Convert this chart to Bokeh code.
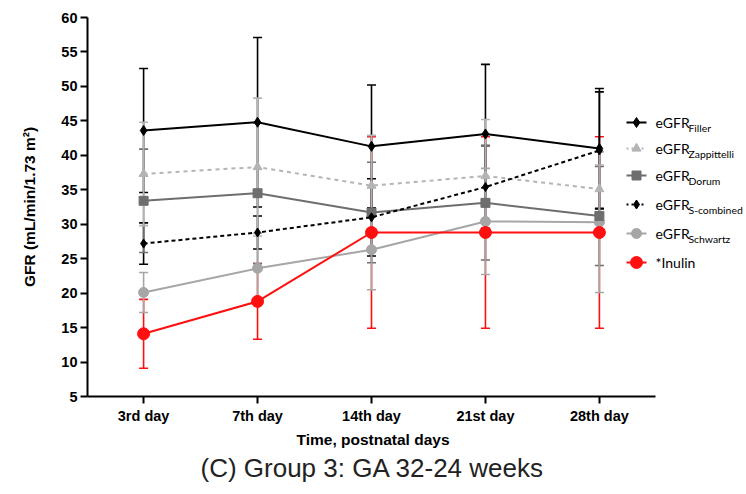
from bokeh.plotting import figure
from bokeh.models import Range1d, Whisker, ColumnDataSource, Label, FixedTicker, TeeHead, Title
from bokeh.embed import file_html
from bokeh.resources import INLINE

# ---------------- data ----------------
days = ["3rd day", "7th day", "14th day", "21st day", "28th day"]
filler = [43.6, 44.8, 41.3, 43.1, 41.0]
filler_sd = [9.0, 12.3, 8.9, 10.1, 8.7]
zappittelli = [37.3, 38.3, 35.6, 37.0, 35.1]
zappittelli_sd = [7.5, 10.0, 7.3, 8.2, 3.5]
dorum = [33.4, 34.5, 31.7, 33.1, 31.2]
dorum_sd = [7.5, 10.2, 7.3, 8.3, 7.2]
scombined = [27.2, 28.8, 31.0, 35.4, 40.7]
scombined_sd = [3.0, 2.4, 5.6, 6.0, 8.5]
schwartz = [20.1, 23.6, 26.3, 30.4, 30.3]
schwartz_sd = [2.9, 5.1, 5.8, 7.7, 10.2]
inulin = [14.1, 18.8, 28.8, 28.8, 28.8]
inulin_sd = [5.0, 5.5, 13.9, 13.9, 13.9]

y_ticks = [5, 10, 15, 20, 25, 30, 35, 40, 45, 50, 55, 60]

xs = list(range(len(days)))

# ---------------- figure ----------------
W, H = 746, 494
FL, FT, FB = 87, 17, 396          # frame left / top / bottom (px)
AX_RIGHT = 655                    # end of the drawn x axis (px)
PX_PER_X = (AX_RIGHT - FL) / 4.9846
X0 = -0.4923
X_END = X0 + (W - FL) / PX_PER_X
X_AXIS_END = X0 + (AX_RIGHT - FL) / PX_PER_X

p = figure(width=W, height=H, x_range=Range1d(X0, X_END), y_range=Range1d(5, 60),
           output_backend="svg", toolbar_location=None,
           min_border_left=FL, min_border_right=0, min_border_top=FT,
           min_border_bottom=H - FB)
p.outline_line_color = None
p.xgrid.grid_line_color = None
p.ygrid.grid_line_color = None
p.background_fill_color = "white"

AX_FONT = "Liberation Sans"
for ax in (p.xaxis[0], p.yaxis[0]):
    ax.axis_line_width = 2
    ax.major_tick_line_width = 2
    ax.major_tick_in = 0
    ax.major_tick_out = 7
    ax.minor_tick_line_color = None
    ax.major_label_text_font = AX_FONT
    ax.major_label_text_font_style = "bold"
    ax.major_label_text_font_size = "14.5px"
    ax.major_label_text_color = "black"
    ax.axis_label_text_font = AX_FONT
    ax.axis_label_text_font_style = "bold"
    ax.axis_label_text_font_size = "15.5px"
    ax.axis_label_text_color = "black"

p.xaxis.ticker = FixedTicker(ticks=xs)
p.xaxis.major_label_overrides = {i: d for i, d in enumerate(days)}
p.xaxis.bounds = (X0, X_AXIS_END)
p.xaxis.major_label_standoff = 4
p.yaxis.ticker = FixedTicker(ticks=y_ticks)
p.yaxis.axis_label = "GFR (mL/min/1.73 m\u00b2)"
p.yaxis.major_label_standoff = 3
p.yaxis.axis_label_standoff = 20

series = [
    # name, sub, values, sd, color, dash, marker, size
    ("Inulin", None, inulin, inulin_sd, "#ff1010", "solid", "circle", 12),
    ("Filler", "Filler", filler, filler_sd, "#000000", "solid", "diamond", 10),
    ("S", "S-combined", scombined, scombined_sd, "#000000", "4 3", "diamond", 9),
    ("Dorum", "Dorum", dorum, dorum_sd, "#6e6e6e", "solid", "square", 9),
    ("Zapp", "Zappittelli", zappittelli, zappittelli_sd, "#b4b4b4", "4 4", "triangle", 9),
    ("Schwartz", "Schwartz", schwartz, schwartz_sd, "#a6a6a6", "solid", "circle", 10),
]

# error bars (under everything)
for name, sub, vals, sd, color, dash, marker, size in series:
    src = ColumnDataSource(dict(x=xs, upper=[v + s for v, s in zip(vals, sd)],
                                lower=[v - s for v, s in zip(vals, sd)]))
    w = Whisker(base="x", upper="upper", lower="lower", source=src,
                line_color=color, line_width=1.6, level="underlay",
                upper_head=TeeHead(size=9, line_color=color, line_width=1.6),
                lower_head=TeeHead(size=9, line_color=color, line_width=1.6))
    p.add_layout(w)

# lines + markers (red drawn last)
draw_order = [series[5], series[4], series[3], series[2], series[1], series[0]]
for name, sub, vals, sd, color, dash, marker, size in draw_order:
    p.line(xs, vals, line_color=color, line_width=2, line_dash=dash)
    p.scatter(xs, vals, marker=marker, size=size, fill_color=color, line_color=color)

# ---------------- legend (built by hand for subscripts) ----------------
def X(px):  # pixel -> data x
    return X0 + (px - FL) / PX_PER_X

def Y(py):  # pixel -> data y
    return 5 + (FB - py) * 55 / (FB - FT)

legend_rows = [
    ("eGFR", "Filler", series[1], 122),
    ("eGFR", "Zappittelli", series[4], 148),
    ("eGFR", "Dorum", series[3], 175),
    ("eGFR", "S-combined", series[2], 204),
    ("eGFR", "Schwartz", series[5], 233),
    ("*Inulin", None, series[0], 262),
]
LFONT = "Lato"
for main, sub, s, py in legend_rows:
    name, _, vals, sd, color, dash, marker, size = s
    y = Y(py)
    p.line([X(626), X(646)], [y, y], line_color=color, line_width=2,
           line_dash=("2 3" if dash != "solid" else "solid"))
    p.scatter([X(636)], [y], marker=marker, size=size, fill_color=color, line_color=color)
    p.add_layout(Label(x=X(655), y=y, text=main, text_baseline="middle",
                       text_font=LFONT, text_font_size="14px", text_color="black"))
    if sub:
        p.add_layout(Label(x=X(688), y=Y(py + 5), text=sub, text_baseline="middle",
                           text_font=LFONT, text_font_size="10.4px", text_color="black"))

# axis title and caption, centred under the drawn x axis (not the whole frame)
xtitle = Title(text="Time, postnatal days", align="left", offset=209,
               text_font=AX_FONT, text_font_style="bold", text_font_size="15.5px",
               text_color="black", standoff=5)
p.add_layout(xtitle, "below")
cap = Title(text="(C) Group 3: GA 32-24 weeks", align="left", offset=113,
            text_font=AX_FONT, text_font_style="normal", text_font_size="26px",
            text_color="#222222", standoff=0)
p.add_layout(cap, "below")

open("out.html", "w").write(file_html(p, INLINE))
